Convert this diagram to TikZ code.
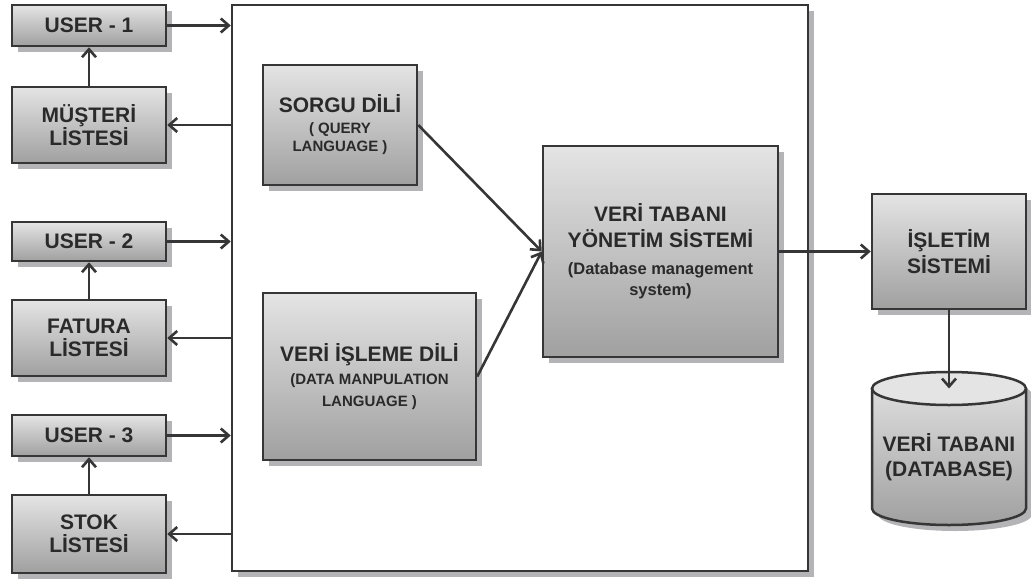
\documentclass[tikz,border=0pt]{standalone}
\usepackage{fontspec}
\setmainfont{Liberation Sans}
\usetikzlibrary{arrows.meta,shadows}
\definecolor{boxtop}{HTML}{E4E4E4}
\definecolor{boxbot}{HTML}{A0A0A0}
\definecolor{shgray}{HTML}{B4B4B6}
\definecolor{edge}{HTML}{363636}
\definecolor{ink}{HTML}{2A2A2A}
% all lines of a label share one baseline distance; gaps are set with \\[..]
\newcommand\titlefont{\bfseries\fontsize{21}{23.5}\selectfont}
\newcommand\subfontA{\fontsize{15}{23.5}\selectfont}
\newcommand\subfontB{\fontsize{16.5}{23.5}\selectfont}
\begin{document}
\begin{tikzpicture}[x=1pt,y=-1pt,
  shadowed/.style={general shadow={fill=shgray, shadow xshift=6pt, shadow yshift=-6pt}},
  box/.style={shadowed, rectangle, draw=edge, line width=2.5pt,
    top color=boxtop, bottom color=boxbot, inner sep=0pt,
    align=flush center, text width=150pt, text=ink, font=\titlefont},
  frame/.style={shadowed, rectangle, draw=edge, line width=2.5pt, fill=white, inner sep=0pt},
  arr/.style={draw=edge, line width=2.6pt, -{Straight Barb[length=8pt,width=14pt]}},
  plain/.style={draw=edge, line width=2.5pt}
]
\useasboundingbox (0,0) rectangle (1031,581);

% outer application frame
\node[frame, minimum width=576pt, minimum height=566pt] (big) at (520,288) {};

% users and their lists
\node[box, minimum width=154pt, minimum height=41pt] (user1) at (89,25.5) {USER - 1};
\node[box, minimum width=154pt, minimum height=76pt] (must) at (89,125) {MÜŞTERİ\\LİSTESİ};
\node[box, minimum width=154pt, minimum height=39pt] (user2) at (89,241.5) {USER - 2};
\node[box, minimum width=154pt, minimum height=76pt] (fatura) at (89,338) {FATURA\\LİSTESİ};
\node[box, minimum width=154pt, minimum height=41pt] (user3) at (89,435.5) {USER - 3};
\node[box, minimum width=154pt, minimum height=78pt] (stok) at (89,534) {STOK\\LİSTESİ};

% languages
\node[box, minimum width=154pt, minimum height=120pt] (sorgu) at (340,125)
  {SORGU DİLİ\\[-2.5pt]\subfontA ( QUERY\\[-5.5pt]LANGUAGE )};
\node[box, text width=205pt, minimum width=213pt, minimum height=167pt] (dml) at (369.5,376.5)
  {VERİ İŞLEME DİLİ\\[-0.5pt]\subfontA (DATA MANPULATION\\[-1.5pt]LANGUAGE )};

% database management system
\node[box, text width=225pt, minimum width=235pt, minimum height=211pt] (dbms) at (660.5,251.5)
  {VERİ TABANI\\[2.5pt]YÖNETİM SİSTEMİ\\[3.5pt]\subfontB (Database management\\[-2.5pt]system)};

% operating system
\node[box, minimum width=154pt, minimum height=115pt] (os) at (949,251.5) {İŞLETİM\\[2.5pt]SİSTEMİ};

% database cylinder
\begin{scope}[shift={(6,6)}]
  \fill[shgray] (872,388.5) -- (872,508.5)
    arc[start angle=180, end angle=360, x radius=77pt, y radius=16.5pt]
    -- (1026,388.5)
    arc[start angle=0, end angle=180, x radius=77pt, y radius=16.5pt] -- cycle;
\end{scope}
\shade[top color=boxtop, bottom color=boxbot] (872,388.5) -- (872,508.5)
    arc[start angle=180, end angle=360, x radius=77pt, y radius=16.5pt]
    -- (1026,388.5)
    arc[start angle=0, end angle=180, x radius=77pt, y radius=16.5pt] -- cycle;
\draw[plain] (872,388.5) -- (872,508.5)
    arc[start angle=180, end angle=360, x radius=77pt, y radius=16.5pt]
    -- (1026,388.5);
\draw[plain, fill=boxtop] (949,388.5) ellipse[x radius=77pt, y radius=16.5pt];
\coordinate (dbtop) at (949,388.5);
\node[align=flush center, text=ink, font=\titlefont] (db) at (949,457) {VERİ TABANI\\[1.5pt](DATABASE)};

% user requests into the application
\draw[arr] (user1) -- (user1 -| big.west);
\draw[arr] (user2) -- (user2 -| big.west);
\draw[arr] (user3) -- (user3 -| big.west);
% results back to the lists
\draw[arr] (must -| big.west) -- (must);
\draw[arr] (fatura -| big.west) -- (fatura);
\draw[arr] (stok -| big.west) -- (stok);
% lists feed their users
\draw[arr] (must) -- (user1);
\draw[arr] (fatura) -- (user2);
\draw[arr] (stok) -- (user3);

% languages to the DBMS, DBMS to OS, OS to database
\draw[arr] (sorgu.east) -- (dbms.west);
\draw[arr] (dml.east) -- (dbms.west);
\draw[arr] (dbms) -- (os);
\draw[arr] (os) -- (dbtop);
\end{tikzpicture}
\end{document}
